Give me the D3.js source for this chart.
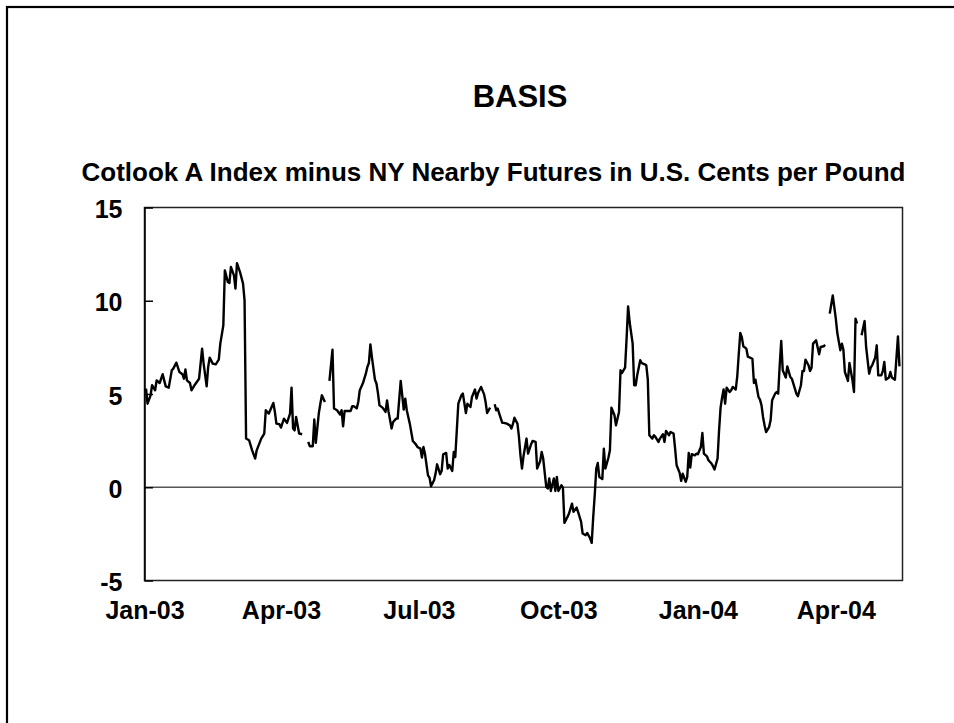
<!DOCTYPE html>
<html>
<head>
<meta charset="utf-8">
<script src="https://cdn.jsdelivr.net/npm/d3@7"></script>
<style>
  html, body { margin: 0; padding: 0; background: #ffffff; }
  svg { display: block; }
  text { font-family: "Liberation Sans", Arial, Helvetica, sans-serif; font-weight: bold; fill: #000; }
</style>
</head>
<body>
<svg id="chart" width="954" height="723"></svg>
<script>
// ---------------- DATA ----------------
const titleText = "BASIS";
const subtitleText = "Cotlook A Index minus NY Nearby Futures in U.S. Cents per Pound";

// Base date for the series; observations are given as day offsets from it.
const baseDate = "2003-01-01";
const axisEndDate = "2004-05-15";

// Day offsets (days since 2003-01-01) of each observation
const dayOffsets = [
  1,2,4,5,7,8,10,12,13,14,16,18,19,21,23,25,26,27,28,30,31,33,36,38,39,41,42,43,45,47,49,50,52,53,55,56,57,59,60,61,63,65,66,
  67,69,71,73,74,77,79,80,82,85,86,87,89,90,92,94,96,97,98,99,100,102,104,106,
  108,109,111,112,113,115,116,117,119,120,
  122,124,125,127,129,130,131,132,134,136,137,138,140,141,142,144,146,147,148,149,150,152,153,154,155,157,159,160,161,163,164,166,167,169,171,172,173,175,177,179,180,182,183,184,185,187,188,189,191,192,193,195,196,197,199,200,201,203,204,205,207,209,210,212,213,215,216,218,219,220,222,224,225,226,228,229,
  231,232,233,234,236,237,239,241,242,243,244,246,247,248,249,250,252,253,255,256,258,259,261,262,263,265,266,267,268,270,271,272,273,275,276,277,279,280,282,283,285,286,288,289,291,292,294,295,296,297,298,299,300,302,303,304,306,307,308,310,311,313,314,315,317,318,319,320,322,323,324,325,327,328,330,331,332,333,335,336,337,339,340,342,343,344,346,347,349,350,351,353,354,355,357,358,359,360,361,363,364,365,367,368,369,371,372,374,375,376,378,379,380,381,382,383,384,386,387,388,390,391,392,393,394,395,397,398,401,402,403,405,406,407,408,409,410,412,413,414,416,417,418,419,420,421,423,424,426,427,428,430,431,433,434,435,436,438,439,440,441,443,445,446,448,449,450,
  452,454,456,457,459,460,461,462,464,465,467,468,469,470,471,
  473,475,476,478,479,480,482,483,484,486,487,488,489,491,492,493,495,497,498
];

// Basis values, U.S. cents per pound (null = no quote, line break)
const basisValues = [
  5.29,4.48,4.93,5.47,5.2,5.73,5.59,6.06,5.73,5.41,5.34,6.27,6.36,6.68,6.18,6.06,5.82,6.32,5.73,5.59,5.2,5.47,5.82,7.43,6.63,5.41,6.45,6.95,6.63,6.59,6.84,7.7,8.68,11.63,11.0,10.95,11.81,11.36,10.65,12.02,11.54,10.92,10.02,
  2.61,2.52,1.98,1.54,1.98,2.61,2.88,4.13,3.95,4.52,4.04,3.41,3.38,3.2,3.68,3.45,3.95,5.34,3.15,3.05,3.77,2.88,2.84,null,
  2.43,2.2,2.2,3.63,2.38,3.98,4.48,4.93,4.57,null,
  5.7,7.38,4.22,4.13,3.9,4.13,3.27,4.09,4.09,4.09,4.34,4.34,4.23,4.57,5.2,5.56,6.09,6.45,6.66,7.66,6.98,5.77,5.56,5.05,4.39,4.27,4.04,4.66,4.04,3.15,3.5,3.68,3.68,5.7,4.16,4.75,4.13,3.41,2.48,2.3,2.16,2.07,1.59,2.16,1.8,0.64,0.52,0.05,0.38,0.73,1.23,0.7,0.87,1.77,1.84,1.0,1.2,0.87,1.89,1.62,4.48,4.93,5.02,3.98,4.48,4.3,4.84,5.24,4.75,5.05,5.38,4.98,4.57,3.98,4.27,null,
  4.45,4.13,4.22,3.95,3.45,3.45,3.41,3.32,3.15,3.38,3.73,3.41,2.7,1.71,1.0,1.66,2.61,1.8,2.3,2.48,2.43,1.0,1.41,1.89,1.54,0.02,-0.07,0.47,-0.2,0.47,-0.2,0.55,-0.2,0.11,-0.02,-1.91,-1.59,-1.41,-0.88,-1.32,-1.09,-1.32,-1.86,-2.48,-2.57,-2.45,-2.75,-2.98,-1.59,-0.4,1.0,1.3,0.55,0.44,2.07,1.0,1.58,1.98,4.27,3.86,3.32,4.04,6.27,6.13,6.41,7.97,9.7,8.86,7.7,5.47,5.47,6.0,6.81,6.66,6.59,6.54,5.77,2.79,2.61,2.79,2.7,2.43,2.61,2.84,2.43,3.02,2.79,2.96,2.88,2.07,1.18,0.77,0.34,0.73,0.29,0.55,1.84,1.05,1.77,1.71,1.8,1.77,2.16,2.91,1.8,1.66,1.45,1.27,1.13,0.95,1.54,3.05,4.27,4.81,5.24,4.48,5.34,5.11,5.2,5.38,5.24,5.95,7.16,8.27,8.05,7.56,7.43,7.0,6.89,5.59,5.77,4.84,4.7,4.39,3.77,3.32,2.96,3.23,3.59,4.66,5.02,5.11,5.02,6.54,7.84,6.27,5.88,6.48,5.91,5.82,5.56,5.02,4.88,5.47,6.23,6.23,6.84,6.54,6.23,6.41,7.7,7.88,7.13,7.52,7.56,7.63,null,
  9.31,10.29,9.04,8.27,7.34,7.7,7.38,6.18,5.7,6.66,5.73,5.11,9.04,8.77,null,
  8.15,8.91,7.52,6.09,6.41,6.54,6.95,7.61,6.0,6.0,6.23,6.72,5.77,5.88,6.18,5.88,5.77,8.09,6.48
];

// Axis ticks
const yTickValues = [-5, 0, 5, 10, 15];
const yTickLabels = ["-5", "0", "5", "10", "15"];
const xTickDates = ["2003-01-01", "2003-04-01", "2003-07-01", "2003-10-01", "2004-01-01", "2004-04-01"];
const xTickLabels = ["Jan-03", "Apr-03", "Jul-03", "Oct-03", "Jan-04", "Apr-04"];

// ---------------- DRAW ----------------
const parse = d3.utcParse("%Y-%m-%d");
const base = parse(baseDate);
const series = dayOffsets.map((d, i) => ({ date: d3.utcDay.offset(base, d), value: basisValues[i] }));

const svg = d3.select("#chart");
const W = 954, H = 723;
const plot = { left: 144.5, right: 902.5, top: 207.5, bottom: 580.5 };

svg.append("rect").attr("width", W).attr("height", H).attr("fill", "#fff");

// outer border (extends past right and bottom edges)
svg.append("rect")
  .attr("x", 7).attr("y", 7).attr("width", W + 10).attr("height", H + 10)
  .attr("fill", "none").attr("stroke", "#000").attr("stroke-width", 2.2);

const x = d3.scaleUtc().domain([base, parse(axisEndDate)]).range([plot.left, plot.right]);
const y = d3.scaleLinear().domain([-5, 15]).range([plot.bottom, plot.top]);

// plot frame
svg.append("rect")
  .attr("x", plot.left).attr("y", plot.top)
  .attr("width", plot.right - plot.left).attr("height", plot.bottom - plot.top)
  .attr("fill", "none").attr("stroke", "#222").attr("stroke-width", 1.5);

// zero line
svg.append("line")
  .attr("x1", plot.left).attr("x2", plot.right)
  .attr("y1", y(0)).attr("y2", y(0))
  .attr("stroke", "#555").attr("stroke-width", 1.5);

// y axis
const yAxis = d3.axisLeft(y).tickValues(yTickValues).tickSizeInner(-8.5).tickSizeOuter(0).tickPadding(22)
  .tickFormat((d, i) => yTickLabels[i]);
const gy = svg.append("g").attr("transform", `translate(${plot.left},0)`).call(yAxis);
gy.select(".domain").attr("stroke", "#000").attr("stroke-width", 1.5);
gy.selectAll(".tick line").attr("stroke", "#000").attr("stroke-width", 1.5);
gy.selectAll(".tick text").attr("font-size", 25).attr("font-family", null).attr("dy", "0.40em");

// x axis
const xTicks = xTickDates.map(parse);
const xAxis = d3.axisBottom(x).tickValues(xTicks).tickSize(0).tickPadding(21)
  .tickFormat((d, i) => xTickLabels[i]);
const gx = svg.append("g").attr("transform", `translate(0,${plot.bottom})`).call(xAxis);
gx.select(".domain").remove();
gx.selectAll(".tick text").attr("font-size", 25).attr("font-family", null);

// line
const line = d3.line()
  .defined(d => d.value !== null)
  .x(d => x(d.date))
  .y(d => y(d.value));
svg.append("path")
  .datum(series)
  .attr("d", line)
  .attr("fill", "none")
  .attr("stroke", "#000")
  .attr("stroke-width", 2.4)
  .attr("stroke-linejoin", "round");

// titles
svg.append("text").attr("x", 520).attr("y", 107).attr("text-anchor", "middle")
  .attr("font-size", 31).text(titleText);
svg.append("text").attr("x", 493.5).attr("y", 181).attr("text-anchor", "middle")
  .attr("font-size", 26).text(subtitleText);
</script>
</body>
</html>
